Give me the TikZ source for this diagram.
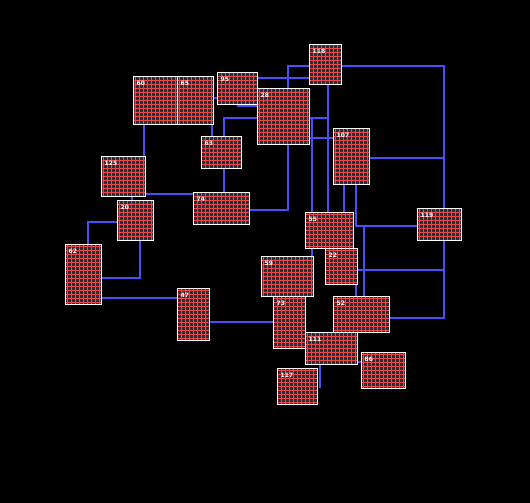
\documentclass[tikz,border=0pt]{standalone}
\usepackage{fontspec}
\setsansfont{DejaVu Sans}
\definecolor{cellfill}{RGB}{44,44,52}
\definecolor{gridred}{RGB}{240,72,72}
\definecolor{wireblue}{RGB}{76,76,255}
\pgfdeclarelayer{bg}
\pgfdeclarelayer{wires}
\pgfsetlayers{bg,wires,main}
\begin{document}
\begin{tikzpicture}[x=1pt,y=-1pt,
  box/.style={draw=white, line width=1pt, fill=cellfill, inner sep=0pt, outer sep=0pt, anchor=north west,
    path picture={\draw[gridred, line width=1pt, step=4pt] (path picture bounding box.south west) grid (path picture bounding box.north east);}},
  lbl/.style={anchor=north west, inner sep=0pt, xshift=3pt, yshift=-4pt, text=white,
    font=\sffamily\bfseries\fontsize{6}{6}\selectfont},
  wire/.style={draw=wireblue, line width=2pt}]
  \useasboundingbox (0,0) rectangle (530,503);
  \begin{pgfonlayer}{bg}
    \fill[black] (0,0) rectangle (530,503);
  \end{pgfonlayer}
  \node[box, minimum width=44pt, minimum height=48pt, label={[lbl]north west:60}] (n60) at (133.5,76.5) {};
  \node[box, minimum width=36pt, minimum height=48pt, label={[lbl]north west:65}] (n65) at (177.5,76.5) {};
  \node[box, minimum width=40pt, minimum height=32pt, label={[lbl]north west:95}] (n95) at (217.5,72.5) {};
  \node[box, minimum width=32pt, minimum height=40pt, label={[lbl]north west:118}] (n118) at (309.5,44.5) {};
  \node[box, minimum width=52pt, minimum height=56pt, label={[lbl]north west:28}] (n28) at (257.5,88.5) {};
  \node[box, minimum width=36pt, minimum height=56pt, label={[lbl]north west:107}] (n107) at (333.5,128.5) {};
  \node[box, minimum width=40pt, minimum height=32pt, label={[lbl]north west:63}] (n63) at (201.5,136.5) {};
  \node[box, minimum width=44pt, minimum height=40pt, label={[lbl]north west:125}] (n125) at (101.5,156.5) {};
  \node[box, minimum width=36pt, minimum height=40pt, label={[lbl]north west:20}] (n20) at (117.5,200.5) {};
  \node[box, minimum width=56pt, minimum height=32pt, label={[lbl]north west:74}] (n74) at (193.5,192.5) {};
  \node[box, minimum width=36pt, minimum height=60pt, label={[lbl]north west:62}] (n62) at (65.5,244.5) {};
  \node[box, minimum width=32pt, minimum height=52pt, label={[lbl]north west:47}] (n47) at (177.5,288.5) {};
  \node[box, minimum width=44pt, minimum height=32pt, label={[lbl]north west:119}] (n119) at (417.5,208.5) {};
  \node[box, minimum width=32pt, minimum height=36pt, label={[lbl]north west:22}] (n22) at (325.5,248.5) {};
  \node[box, minimum width=48pt, minimum height=36pt, label={[lbl]north west:55}] (n55) at (305.5,212.5) {};
  \node[box, minimum width=32pt, minimum height=52pt, label={[lbl]north west:73}] (n73) at (273.5,296.5) {};
  \node[box, minimum width=52pt, minimum height=40pt, label={[lbl]north west:59}] (n59) at (261.5,256.5) {};
  \node[box, minimum width=56pt, minimum height=36pt, label={[lbl]north west:52}] (n52) at (333.5,296.5) {};
  \node[box, minimum width=52pt, minimum height=32pt, label={[lbl]north west:111}] (n111) at (305.5,332.5) {};
  \node[box, minimum width=44pt, minimum height=36pt, label={[lbl]north west:86}] (n86) at (361.5,352.5) {};
  \node[box, minimum width=40pt, minimum height=36pt, label={[lbl]north west:117}] (n117) at (277.5,368.5) {};
  \begin{pgfonlayer}{wires}
    \draw[wire] (n60.south -| 144,0) -- (n125.north -| 144,0);
    \draw[wire] (n65.south -| 212,0) -- (n63.north -| 212,0);
    \draw[wire] (n65.east |- 0,98) -- (n95.west |- 0,98);
    \draw[wire] (n95.east |- 0,78) -- (n118.west |- 0,78);
    \draw[wire] (n95.south -| 238,0) |- (n28.west |- 0,106);
    \draw[wire] (n28.west |- 0,118) -| (n74.north -| 224,0);
    \draw[wire] (n74.east |- 0,210) -| (288,66) -- (n118.west |- 0,66);
    \draw[wire] (n118.east |- 0,66) -| (444,318) -- (n52.east |- 0,318);
    \draw[wire] (n107.east |- 0,158) -- (444,158);
    \draw[wire] (n22.east |- 0,270) -- (444,270);
    \draw[wire] (n118.south -| 328,0) -- (n55.north -| 328,0);
    \draw[wire] (n28.east |- 0,118) -- (328,118);
    \draw[wire] (312,117) -- (n59.north -| 312,0);
    \draw[wire] (n28.east |- 0,138) -- (n107.west |- 0,138);
    \draw[wire] (n107.south -| 344,0) -- (n55.north -| 344,0);
    \draw[wire] (n107.south -| 356,0) |- (n119.west |- 0,226);
    \draw[wire] (364,226) -- (n52.north -| 364,0);
    \draw[wire] (n22.south -| 356,0) -- (n52.north -| 356,0);
    \draw[wire] (n125.east |- 0,194) -- (n74.west |- 0,194);
    \draw[wire] (n125.south -| 132,0) -- (n20.north -| 132,0);
    \draw[wire] (n20.west |- 0,222) -| (n62.north -| 88,0);
    \draw[wire] (n20.south -| 140,0) |- (n62.east |- 0,278);
    \draw[wire] (n62.east |- 0,298) -- (n47.west |- 0,298);
    \draw[wire] (n47.east |- 0,322) -- (n73.west |- 0,322);
    \draw[wire] (n111.south -| 320,0) -- (320,388);
    \draw[wire] (n111.east |- 0,362) -- (n86.west |- 0,362);
  \end{pgfonlayer}
\end{tikzpicture}
\end{document}
